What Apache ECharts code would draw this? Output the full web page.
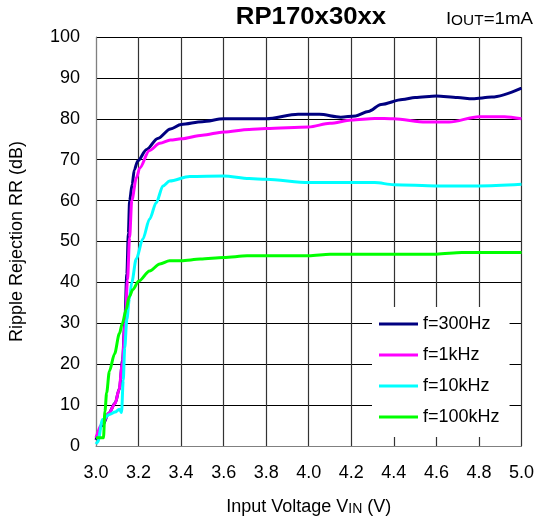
<!DOCTYPE html>
<html>
<head>
<meta charset="utf-8">
<script src="https://cdn.jsdelivr.net/npm/echarts@6/dist/echarts.min.js"></script>
<style>
html,body{margin:0;padding:0;background:#fff;}
#c{width:537px;height:522px;}
</style>
</head>
<body>
<div id="c"></div>
<script>
// ---- data ----
const seriesNames = ['f=300Hz', 'f=1kHz', 'f=10kHz', 'f=100kHz'];
const seriesColors = ['#000080', '#ff00ff', '#00ffff', '#00ff00'];

const vin300 = [3.00, 3.03, 3.06, 3.09, 3.11, 3.125, 3.135, 3.145, 3.152, 3.158, 3.170, 3.180, 3.196, 3.238, 3.290, 3.350, 3.40, 3.50, 3.60, 3.80, 3.95, 4.05, 4.15, 4.22, 4.28, 4.34, 4.44, 4.50, 4.60, 4.70, 4.77, 4.86, 5.00];
const rr300  = [1.5, 5, 8, 10.5, 14, 21, 30, 42, 52, 60, 64, 67.5, 69.7, 72.5, 75.2, 77.5, 78.6, 79.3, 80.0, 80.0, 81.1, 81.1, 80.4, 80.7, 81.8, 83.5, 84.7, 85.2, 85.6, 85.2, 84.9, 85.3, 87.5];

const vin1k = [3.00, 3.03, 3.06, 3.09, 3.108, 3.124, 3.137, 3.148, 3.158, 3.168, 3.19, 3.206, 3.25, 3.30, 3.35, 3.40, 3.50, 3.60, 3.72, 3.80, 4.00, 4.10, 4.20, 4.31, 4.40, 4.55, 4.66, 4.80, 4.92, 5.00];
const rr1k  = [2.0, 5.5, 8, 10.4, 13.7, 20.2, 30, 40.6, 51, 60, 65.6, 68, 72.2, 74, 74.8, 75.1, 76, 76.8, 77.4, 77.6, 78.0, 78.9, 79.7, 80.1, 80.0, 79.2, 79.2, 80.5, 80.5, 80.0];

const vin10k = [3.00, 3.008, 3.031, 3.063, 3.09, 3.11, 3.12, 3.128, 3.135, 3.145, 3.157, 3.168, 3.189, 3.22, 3.252, 3.283, 3.315, 3.346, 3.44, 3.60, 3.72, 3.80, 4.00, 4.20, 4.31, 4.40, 4.60, 4.80, 5.00];
const rr10k  = [0.5, 1, 6.5, 7.7, 8.3, 9, 8.2, 16, 24, 31, 36, 40, 45.7, 50.6, 55.5, 59.5, 63.6, 64.8, 65.9, 66.0, 65.4, 65.2, 64.4, 64.4, 64.4, 63.9, 63.6, 63.6, 64.0];

const vin100k = [3.00, 3.035, 3.042, 3.05, 3.063, 3.087, 3.11, 3.124, 3.142, 3.156, 3.173, 3.20, 3.252, 3.30, 3.346, 3.40, 3.49, 3.60, 3.71, 3.82, 4.00, 4.10, 4.60, 4.72, 5.00];
const rr100k  = [2.0, 2.0, 8.5, 13, 18.3, 22.5, 27.5, 30, 33.4, 36.5, 38.2, 40.3, 42.8, 44.5, 45.3, 45.3, 45.7, 46.1, 46.5, 46.5, 46.5, 46.9, 46.9, 47.3, 47.3];

const xValues = [vin300, vin1k, vin10k, vin100k];
const yValues = [rr300, rr1k, rr10k, rr100k];

const FONT = '"Liberation Sans", Arial, Helvetica, sans-serif';

function zip(xs, ys) { return xs.map((x, i) => [x, ys[i]]); }

const chart = echarts.init(document.getElementById('c'), null, {renderer: 'canvas'});

const option = {
  animation: false,
  backgroundColor: '#ffffff',
  textStyle: { fontFamily: FONT },
  grid: { left: 96, right: 13, top: 37, bottom: 76, containLabel: false },
  graphic: [
    {
      type: 'text', x: 311, y: 18, scaleX: 1.12,
      style: {
        text: 'RP170x30xx', fill: '#000',
        font: 'bold 23px ' + FONT,
        align: 'center', verticalAlign: 'middle',
        textAlign: 'center', textVerticalAlign: 'middle'
      }
    },
    {
      type: 'text', x: 533, y: 19, scaleX: 1.1,
      style: {
        text: '{a|I}{b|OUT}{a|=1mA}', fill: '#000',
        align: 'right', verticalAlign: 'middle',
        textAlign: 'right', textVerticalAlign: 'middle',
        rich: {
          a: { fontSize: 17, fontFamily: FONT, fill: '#000', verticalAlign: 'bottom', lineHeight: 18 },
          b: { fontSize: 14, fontFamily: FONT, fill: '#000', verticalAlign: 'bottom', lineHeight: 18 }
        }
      }
    }
  ],
  legend: {
    orient: 'vertical',
    left: 372, top: 307,
    padding: [7, 10, 10, 7],
    backgroundColor: '#ffffff',
    itemWidth: 39, itemHeight: 3,
    itemGap: 11,
    icon: 'rect',
    textStyle: { fontSize: 18, fontFamily: FONT, color: '#000', lineHeight: 20 },
    data: seriesNames
  },
  xAxis: {
    type: 'value', min: 3, max: 5, interval: 0.2,
    name: '{a|Input Voltage V}{b|IN}{a| (V)}',
    nameLocation: 'middle', nameGap: 50,
    nameTextStyle: {
      rich: {
        a: { fontSize: 18, fontFamily: FONT, color: '#000', verticalAlign: 'bottom', lineHeight: 20 },
        b: { fontSize: 14, fontFamily: FONT, color: '#000', verticalAlign: 'bottom', lineHeight: 20 }
      }
    },
    axisLine: { show: true, onZero: false, lineStyle: { color: '#808080', width: 1 } },
    axisTick: { show: false },
    axisLabel: { margin: 18, fontSize: 18, color: '#000', fontFamily: FONT,
      formatter: v => v.toFixed(1) },
    splitLine: { show: true, lineStyle: { color: '#333', width: 1.2 } }
  },
  yAxis: {
    type: 'value', min: 0, max: 100, interval: 10,
    name: 'Ripple Rejection RR (dB)',
    nameLocation: 'middle', nameGap: 70,
    nameTextStyle: { fontSize: 18, fontFamily: FONT, color: '#000' },
    axisLine: { show: true, lineStyle: { color: '#808080', width: 1 } },
    axisTick: { show: false },
    axisLabel: { margin: 16, fontSize: 18, color: '#000', fontFamily: FONT },
    splitLine: { show: true, lineStyle: { color: '#000', width: 1 } }
  },
  series: seriesNames.map((name, i) => ({
    name: name,
    type: 'line',
    data: zip(xValues[i], yValues[i]),
    showSymbol: false,
    symbol: 'none',
    smooth: 0.3,
    smoothMonotone: 'x',
    lineStyle: { color: seriesColors[i], width: 3 },
    itemStyle: { color: seriesColors[i] },
    z: 2 + i
  }))
};

chart.setOption(option);
</script>
</body>
</html>
